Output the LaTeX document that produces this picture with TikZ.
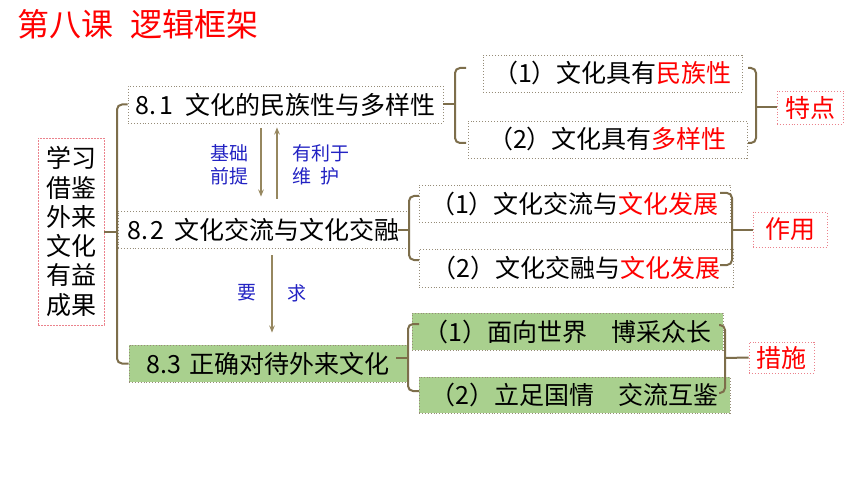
\documentclass[tikz,border=0pt]{standalone}
\usepackage{fontspec}
\setmainfont{Noto Sans CJK SC}
\usetikzlibrary{arrows.meta,calc}
\definecolor{brk}{RGB}{125,110,75}
\definecolor{arrc}{RGB}{150,135,95}
\definecolor{bord}{RGB}{150,140,120}
\definecolor{grn}{RGB}{169,208,142}
\definecolor{lbl}{RGB}{35,35,195}
\definecolor{redc}{RGB}{255,0,0}
\definecolor{pinkb}{RGB}{235,130,140}
\begin{document}
\begin{tikzpicture}[x=1pt,y=-1pt,
  txt/.style={font=\fontsize{25}{29.3}\selectfont},
  box/.style={txt,draw=bord,dotted,line width=0.9pt,inner sep=0pt,anchor=center},
  gbox/.style={box,fill=grn},
  tag/.style={txt,draw=pinkb,dotted,line width=0.9pt,inner sep=0pt,text=redc},
  lblt/.style={font=\fontsize{19}{23}\selectfont,text=lblc,inner sep=0pt},
  brkt/.style={draw=brk,line width=2pt,rounded corners=5pt},
  arrw/.style={draw=arrc,line width=1.5pt,-{Stealth[length=7pt,width=5.5pt]}},
]
\colorlet{lblc}{lbl}
\fill[white] (0,0) rectangle (860,484);
\useasboundingbox (0,0) rectangle (860,484);

% title
\node[anchor=west,inner sep=0pt,text=redc,font=\fontsize{32}{34}\selectfont] (title) at (17,24) {第八课\hspace{17pt}逻辑框架};

% left box
\node[txt,draw=pinkb,dash pattern=on 2pt off 1pt,line width=0.8pt,minimum width=66pt,minimum height=187pt,inner sep=0pt,align=center] (L) at (71,231.5) {学习\\借鉴\\外来\\文化\\有益\\成果};

% main boxes
\node[box,minimum width=315pt,minimum height=37pt] (b81) at (285.5,104.5) {8.\hspace{3pt}1\hspace{12pt}文化的民族性与多样性};
\node[box,minimum width=291pt,minimum height=37pt] (b82) at (263.5,229.5) {8.\hspace{3pt}2\hspace{10pt}文化交流与文化交融};
\node[gbox,minimum width=278pt,minimum height=37pt] (b83) at (268,363.5) {8.\hspace{1pt}3\hspace{8pt}正确对待外来文化};

% sub boxes
\node[box,minimum width=259pt,minimum height=37pt] (s11) at (612.5,73.5) {（1）文化具有\textcolor{redc}{民族性}};
\node[box,minimum width=279pt,minimum height=37pt] (s12) at (607.5,139.5) {（2）文化具有\textcolor{redc}{多样性}\hspace{14pt}};
\node[box,minimum width=311pt,minimum height=37pt] (s21) at (574.5,203.5) {（1）文化交流与\textcolor{redc}{文化发展}};
\node[box,minimum width=314pt,minimum height=38pt] (s22) at (576,268) {（2）文化交融与\textcolor{redc}{文化发展}};
\node[gbox,minimum width=311pt,minimum height=37pt] (s31) at (567.5,331.5) {（1）面向世界\hspace{24pt}博采众长};
\node[gbox,minimum width=311pt,minimum height=36pt] (s32) at (574.5,395) {（2）立足国情\hspace{24pt}交流互鉴};

% tags
\node[tag,minimum width=66pt,minimum height=33pt] (t1) at (810,107.5) {特点};
\node[tag,minimum width=74pt,minimum height=35pt] (t2) at (790,229.5) {作用};
\node[tag,minimum width=65pt,minimum height=31pt] (t3) at (781.5,357.5) {措施};

% main bracket
\draw[brkt] (b81.west) -| (117,230) |- (b83.west);
\draw[brkt] (L.east) -- (L.east -| 117,0);

% 8.1 brackets
\coordinate (a1) at (466,68);
\coordinate (a2) at (466,143);
\draw[brkt] (a1) -| (455,105) |- (a2);
\draw[brkt] (b81.east) -- (b81.east -| 455,0);
\coordinate (r1) at (748,68);
\coordinate (r2) at (748,143);
\draw[brkt] (r1) -| (756,105) |- (r2);
\draw[brkt] (756,107.5) -- (t1.west);

% 8.2 brackets
\coordinate (c1) at (419,196);
\coordinate (c2) at (419,260);
\draw[brkt] (c1) -| (409,228) |- (c2);
\draw[brkt] ([xshift=-11pt]b82.east) -- (b82.east);
\coordinate (q1) at (720,193);
\coordinate (q2) at (720,265);
\draw[brkt] (q1) -| (732,229) |- (q2);
\draw[brkt] (732,229.5) -- (t2.west);

% 8.3 brackets
\coordinate (d1) at (419,324);
\coordinate (d2) at (419,391);
\draw[brkt] (d1) -| (408,358) |- (d2);
\draw[brkt] (396,358) -- (408,358);
\coordinate (p1) at (719,325);
\coordinate (p2) at (719,393);
\draw[brkt] (p1) -| (725,359) |- (p2);
\draw[brkt] (725,358) -- (t3.west);

% arrows
\coordinate (xa) at (261,0);
\coordinate (xb) at (277,0);
\coordinate (xc) at (272,0);
\draw[arrw,shorten <=5pt,shorten >=14pt] (b81.south -| xa) -- (b82.north -| xa);
\draw[arrw,shorten <=12pt,shorten >=4pt] (b82.north -| xb) -- (b81.south -| xb);
\draw[arrw,line width=1.2pt,shorten <=7pt,shorten >=12pt] (b82.south -| xc) -- (b83.north -| xc);

% arrow labels
\node[lblt,align=center] (l1) at (229,164.5) {基础\\前提};
\node[lblt,align=left,anchor=west] (l2) at (292,164.5) {有利于\\维\hspace{9pt}护};
\node[lblt] (l3) at (247,293) {要};
\node[lblt] (l4) at (297,293) {求};
\end{tikzpicture}
\end{document}
